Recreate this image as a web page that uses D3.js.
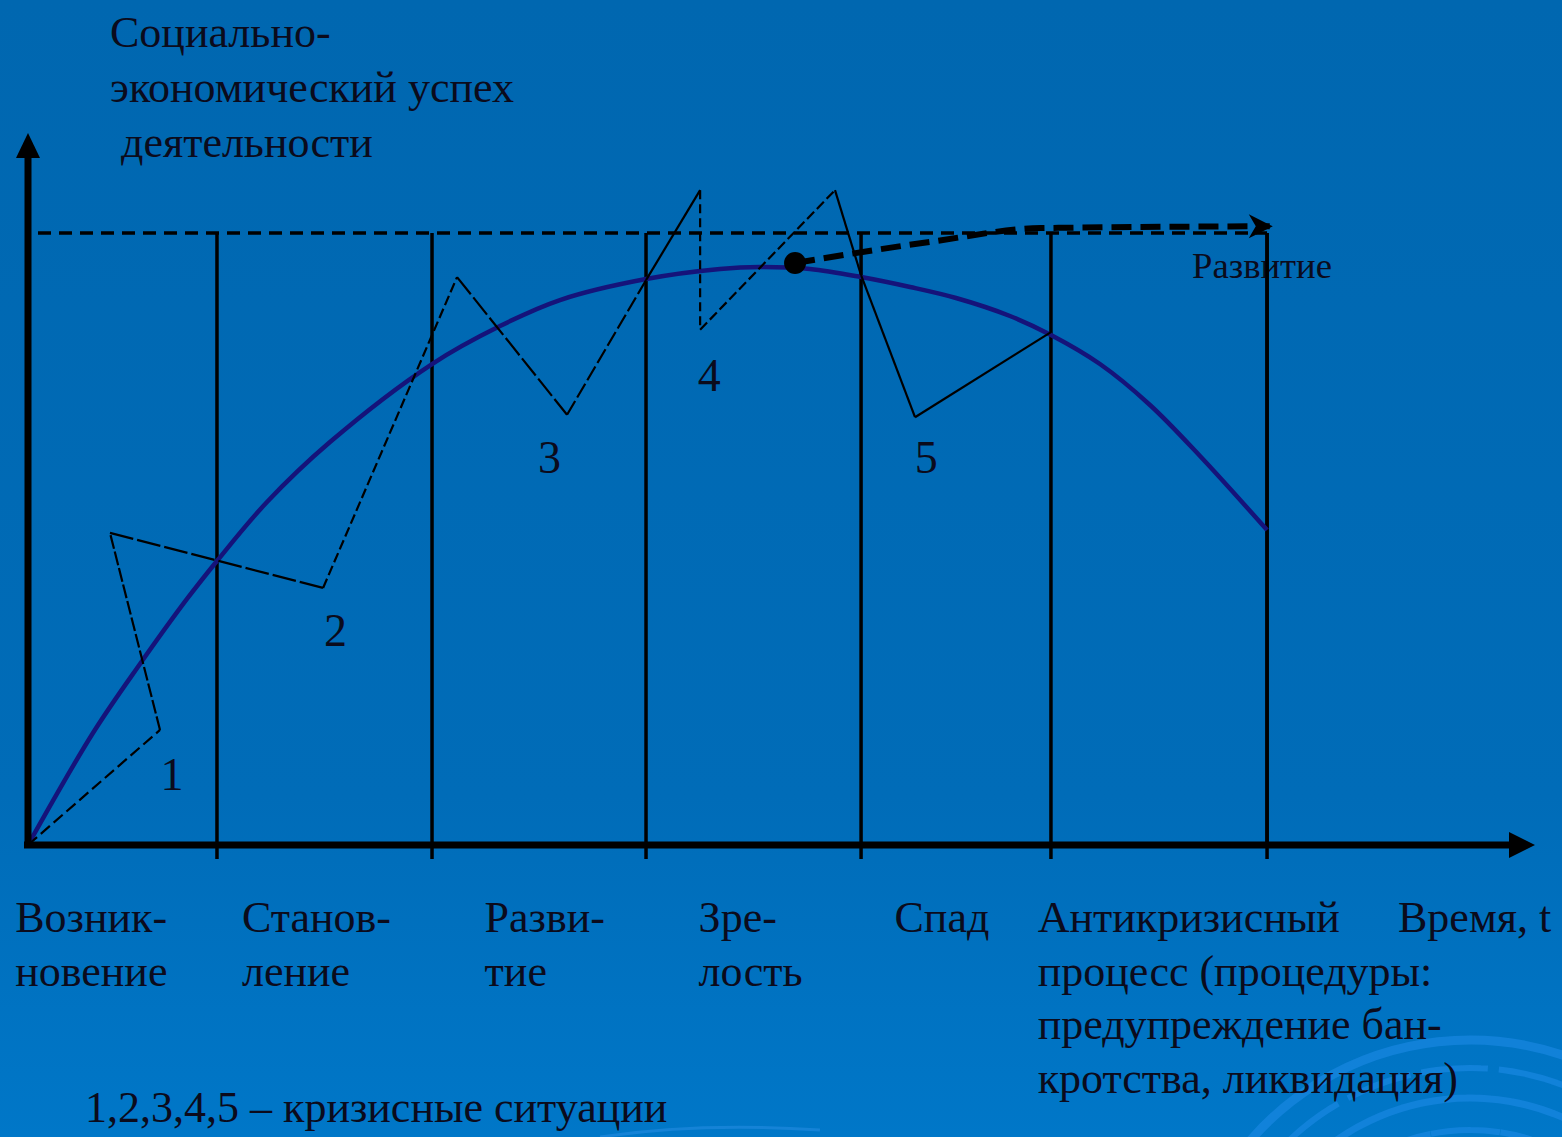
<!DOCTYPE html>
<html><head><meta charset="utf-8">
<script src="https://cdn.jsdelivr.net/npm/d3@7/dist/d3.min.js"></script>
<style>html,body{margin:0;padding:0;overflow:hidden;background:#0068b2}</style>
</head><body>
<svg id="c" width="1562" height="1137"></svg>
<script>
// ---- data (time units 0..100, success units: 100 = target level) ----
const stageNames = [["Возник-","новение"],["Станов-","ление"],["Разви-","тие"],["Зре-","лость"],["Спад"],["Антикризисный","процесс (процедуры:","предупреждение бан-","кротства, ликвидация)"]];
const stageStart = [-0.85, 14.2, 30.3, 44.5, 57.5, 67.0];
const stageBounds = [12.54, 26.81, 41.01, 55.28, 67.88, 82.22];
const targetLevel = 100;
const lifeT = [0, 4.31, 7.43, 10.55, 12.54, 15.86, 20.04, 26.81, 31.32, 35.30, 41.01, 45.92, 48.57, 51.89, 55.28, 58.53, 61.58, 65.16, 67.88, 71.13, 74.45, 77.77, 82.22];
const lifeV = [0, 18.30, 29.58, 40.20, 46.41, 56.05, 65.85, 78.59, 84.80, 89.05, 92.48, 94.12, 94.44, 94.12, 92.81, 91.18, 89.38, 86.44, 83.33, 78.59, 71.90, 63.56, 51.47];
const crisisT = [0, 8.76, 5.44, 19.58, 28.47, 35.77, 41.01, 44.6, 44.6, 53.55, 55.28, 58.86, 67.88];
const crisisV = [0, 18.8, 51.0, 42.0, 92.8, 70.3, 92.3, 107.0, 84.2, 107.0, 93.1, 69.9, 83.8];
const crisisLabels = ["1","2","3","4","5"];
const crisisLabelT = [9.55, 20.4, 34.6, 45.2, 59.6];
const crisisLabelV = [9.0, 32.5, 60.8, 74.2, 60.8];
const devT = [50.9, 60.0, 67.2, 82.4];
const devV = [95.1, 98.6, 100.8, 101.1];
const yTitle = ["Социально-","экономический успех"," деятельности"];
const xTitle = "Время, t";
const devLabel = "Развитие";
const note = "1,2,3,4,5 – кризисные ситуации";

// ---- drawing ----
const W = 1562, H = 1137;
const svg = d3.select("#c");
const x = d3.scaleLinear().domain([0,100]).range([28,1535]);
const y = d3.scaleLinear().domain([0,100]).range([845,233]);
const FONT = "'Liberation Serif','Times New Roman',serif";
const TXT = "#0b0b1c";

const defs = svg.append("defs");
const g = defs.append("linearGradient").attr("id","bg").attr("x1",0).attr("y1",0).attr("x2",0).attr("y2",1);
g.append("stop").attr("offset","0").attr("stop-color","#0067b0");
g.append("stop").attr("offset","0.7").attr("stop-color","#006cb8");
g.append("stop").attr("offset","1").attr("stop-color","#0077c8");
svg.append("rect").attr("width",W).attr("height",H).attr("fill","url(#bg)");

// decorative swirl arcs (bottom right)
const deco = svg.append("g").attr("fill","none").attr("stroke","#1d8be6").attr("stroke-opacity",0.6);
[[290,9,null],[262,6,"60,18"],[232,7,"90,22"],[200,6,"40,30"],[170,6,null]].forEach(([r,w,da])=>{
  deco.append("path")
    .attr("transform","translate(1470,1330)")
    .attr("d", d3.arc()({innerRadius:r, outerRadius:r, startAngle:-Math.PI*0.62, endAngle:Math.PI*0.55}))
    .attr("stroke-width",w).attr("stroke-dasharray",da);
});
svg.append("path").attr("fill","none").attr("stroke","#2a90e6").attr("stroke-opacity",0.5).attr("stroke-width",3)
  .attr("d","M600,1137 Q700,1122 820,1130");

// dashed target level
svg.append("line").attr("x1",x(0)+10).attr("x2",x(stageBounds[5])).attr("y1",y(targetLevel)).attr("y2",y(targetLevel))
  .attr("stroke","#000").attr("stroke-width",3.5).attr("stroke-dasharray","13,8");

// stage boundary lines
svg.selectAll("line.sb").data(stageBounds).join("line").attr("class","sb")
  .attr("x1",d=>x(d)).attr("x2",d=>x(d)).attr("y1",y(targetLevel)).attr("y2",y(0)+14)
  .attr("stroke","#000").attr("stroke-width",3.5);

// development label
svg.append("text").attr("x",1192).attr("y",278).attr("font-family",FONT).attr("font-size",36)
  .attr("fill",TXT).attr("textLength",140).attr("lengthAdjust","spacingAndGlyphs").text(devLabel);
svg.append("line").attr("x1",x(stageBounds[5])).attr("x2",x(stageBounds[5])).attr("y1",y(targetLevel)).attr("y2",y(0))
  .attr("stroke","#000").attr("stroke-width",3.5);

// life cycle curve
const line = d3.line().x((d,i)=>x(lifeT[i])).y((d,i)=>y(lifeV[i])).curve(d3.curveCatmullRom.alpha(0.5));
svg.append("path").attr("d",line(lifeT)).attr("fill","none").attr("stroke","#15137a").attr("stroke-width",4.5);

// crisis zigzag, segment by segment
const segDash = ["12,5","14,3","24,4","10,4","22,4","16,4",null,"9,5","10,4",null,null,null];
for (let i=0;i<crisisT.length-1;i++){
  svg.append("line").attr("x1",x(crisisT[i])).attr("y1",y(crisisV[i])).attr("x2",x(crisisT[i+1])).attr("y2",y(crisisV[i+1]))
    .attr("stroke","#000").attr("stroke-width",2.2).attr("stroke-dasharray",segDash[i]);
}

// crisis labels
svg.selectAll("text.cl").data(crisisLabels).join("text").attr("class","cl")
  .attr("x",(d,i)=>x(crisisLabelT[i])).attr("y",(d,i)=>y(crisisLabelV[i])).attr("text-anchor","middle")
  .attr("font-family",FONT).attr("font-size",46).attr("fill",TXT).text(d=>d);

// development arrow
svg.append("path").attr("d",d3.line().x((d,i)=>x(devT[i])).y((d,i)=>y(devV[i])).curve(d3.curveMonotoneX)(devT))
  .attr("fill","none").attr("stroke","#000").attr("stroke-width",6).attr("stroke-dasharray","20,9");
const tip=[x(devT[3])+3,y(devV[3])];
svg.append("path").attr("d",`M${tip[0]},${tip[1]} L${tip[0]-24},${tip[1]-12} L${tip[0]-17},${tip[1]} L${tip[0]-24},${tip[1]+12} Z`).attr("fill","#000");
svg.append("circle").attr("cx",x(devT[0])).attr("cy",y(devV[0])).attr("r",11).attr("fill","#000");

// axes
svg.append("line").attr("x1",x(0)-4).attr("x2",x(100)-20).attr("y1",y(0)).attr("y2",y(0)).attr("stroke","#000").attr("stroke-width",7);
svg.append("path").attr("d",`M${x(100)},${y(0)} L${x(100)-26},${y(0)-13} L${x(100)-26},${y(0)+13} Z`).attr("fill","#000");
svg.append("line").attr("x1",x(0)).attr("x2",x(0)).attr("y1",y(0)+3).attr("y2",150).attr("stroke","#000").attr("stroke-width",7);
svg.append("path").attr("d",`M${x(0)},133 L${x(0)-12},158 L${x(0)+12},158 Z`).attr("fill","#000");

// y title
svg.selectAll("text.yt").data(yTitle).join("text").attr("class","yt")
  .attr("x",110).attr("y",(d,i)=>47+i*55).attr("font-family",FONT).attr("font-size",44).attr("fill",TXT)
  .attr("xml:space","preserve").style("white-space","pre").text(d=>d);

// stage names
const sg = svg.append("g").attr("font-family",FONT).attr("font-size",44).attr("fill",TXT);
stageNames.forEach((lines,k)=>{
  lines.forEach((s,j)=>{
    sg.append("text").attr("x",x(stageStart[k])).attr("y",932+j*53.7).text(s);
  });
});
sg.append("text").attr("x",1398).attr("y",932).text(xTitle);
sg.append("text").attr("x",85).attr("y",1122).text(note);
</script>
</body></html>
